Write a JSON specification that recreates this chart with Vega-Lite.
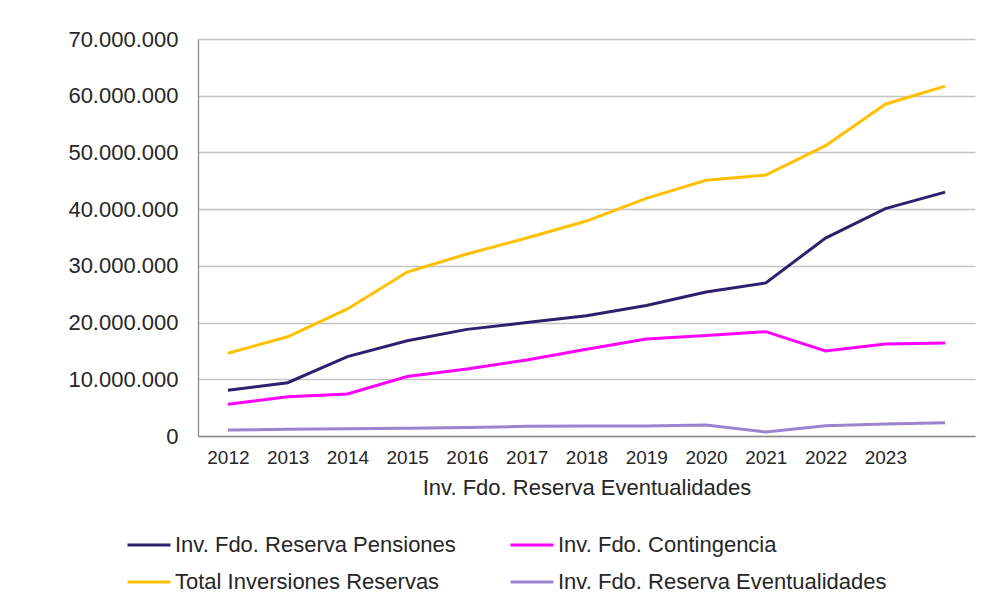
{
  "$schema": "https://vega.github.io/schema/vega-lite/v6.json",
  "width": 777,
  "height": 397,
  "autosize": {"type": "none"},
  "padding": {"left": 198, "top": 39, "right": 12, "bottom": 168},
  "background": "white",
  "data": {
    "values": [
      {"year": "2012", "serie": "Inv. Fdo. Reserva Pensiones", "value": 8060000},
      {"year": "2013", "serie": "Inv. Fdo. Reserva Pensiones", "value": 9400000},
      {"year": "2014", "serie": "Inv. Fdo. Reserva Pensiones", "value": 14000000},
      {"year": "2015", "serie": "Inv. Fdo. Reserva Pensiones", "value": 16800000},
      {"year": "2016", "serie": "Inv. Fdo. Reserva Pensiones", "value": 18800000},
      {"year": "2017", "serie": "Inv. Fdo. Reserva Pensiones", "value": 20000000},
      {"year": "2018", "serie": "Inv. Fdo. Reserva Pensiones", "value": 21200000},
      {"year": "2019", "serie": "Inv. Fdo. Reserva Pensiones", "value": 23000000},
      {"year": "2020", "serie": "Inv. Fdo. Reserva Pensiones", "value": 25400000},
      {"year": "2021", "serie": "Inv. Fdo. Reserva Pensiones", "value": 27000000},
      {"year": "2022", "serie": "Inv. Fdo. Reserva Pensiones", "value": 34900000},
      {"year": "2023", "serie": "Inv. Fdo. Reserva Pensiones", "value": 40100000},
      {"year": "2024", "serie": "Inv. Fdo. Reserva Pensiones", "value": 43000000},
      {"year": "2012", "serie": "Inv. Fdo. Contingencia", "value": 5600000},
      {"year": "2013", "serie": "Inv. Fdo. Contingencia", "value": 6900000},
      {"year": "2014", "serie": "Inv. Fdo. Contingencia", "value": 7400000},
      {"year": "2015", "serie": "Inv. Fdo. Contingencia", "value": 10500000},
      {"year": "2016", "serie": "Inv. Fdo. Contingencia", "value": 11800000},
      {"year": "2017", "serie": "Inv. Fdo. Contingencia", "value": 13400000},
      {"year": "2018", "serie": "Inv. Fdo. Contingencia", "value": 15300000},
      {"year": "2019", "serie": "Inv. Fdo. Contingencia", "value": 17100000},
      {"year": "2020", "serie": "Inv. Fdo. Contingencia", "value": 17700000},
      {"year": "2021", "serie": "Inv. Fdo. Contingencia", "value": 18400000},
      {"year": "2022", "serie": "Inv. Fdo. Contingencia", "value": 15000000},
      {"year": "2023", "serie": "Inv. Fdo. Contingencia", "value": 16200000},
      {"year": "2024", "serie": "Inv. Fdo. Contingencia", "value": 16400000},
      {"year": "2012", "serie": "Total Inversiones Reservas", "value": 14600000},
      {"year": "2013", "serie": "Total Inversiones Reservas", "value": 17500000},
      {"year": "2014", "serie": "Total Inversiones Reservas", "value": 22400000},
      {"year": "2015", "serie": "Total Inversiones Reservas", "value": 28900000},
      {"year": "2016", "serie": "Total Inversiones Reservas", "value": 32100000},
      {"year": "2017", "serie": "Total Inversiones Reservas", "value": 34900000},
      {"year": "2018", "serie": "Total Inversiones Reservas", "value": 37900000},
      {"year": "2019", "serie": "Total Inversiones Reservas", "value": 41900000},
      {"year": "2020", "serie": "Total Inversiones Reservas", "value": 45100000},
      {"year": "2021", "serie": "Total Inversiones Reservas", "value": 46000000},
      {"year": "2022", "serie": "Total Inversiones Reservas", "value": 51200000},
      {"year": "2023", "serie": "Total Inversiones Reservas", "value": 58500000},
      {"year": "2024", "serie": "Total Inversiones Reservas", "value": 61700000},
      {"year": "2012", "serie": "Inv. Fdo. Reserva Eventualidades", "value": 1050000},
      {"year": "2013", "serie": "Inv. Fdo. Reserva Eventualidades", "value": 1200000},
      {"year": "2014", "serie": "Inv. Fdo. Reserva Eventualidades", "value": 1300000},
      {"year": "2015", "serie": "Inv. Fdo. Reserva Eventualidades", "value": 1350000},
      {"year": "2016", "serie": "Inv. Fdo. Reserva Eventualidades", "value": 1500000},
      {"year": "2017", "serie": "Inv. Fdo. Reserva Eventualidades", "value": 1700000},
      {"year": "2018", "serie": "Inv. Fdo. Reserva Eventualidades", "value": 1750000},
      {"year": "2019", "serie": "Inv. Fdo. Reserva Eventualidades", "value": 1750000},
      {"year": "2020", "serie": "Inv. Fdo. Reserva Eventualidades", "value": 1950000},
      {"year": "2021", "serie": "Inv. Fdo. Reserva Eventualidades", "value": 700000},
      {"year": "2022", "serie": "Inv. Fdo. Reserva Eventualidades", "value": 1800000},
      {"year": "2023", "serie": "Inv. Fdo. Reserva Eventualidades", "value": 2100000},
      {"year": "2024", "serie": "Inv. Fdo. Reserva Eventualidades", "value": 2350000}
    ]
  },
  "mark": {"type": "line", "strokeWidth": 3, "strokeJoin": "miter"},
  "encoding": {
    "x": {
      "field": "year",
      "type": "ordinal",
      "scale": {"type": "point", "padding": 0.5},
      "axis": {
        "title": "Inv. Fdo. Reserva Eventualidades",
        "values": ["2012", "2013", "2014", "2015", "2016", "2017", "2018", "2019", "2020", "2021", "2022", "2023"],
        "labelAngle": 0,
        "labelFontSize": 19,
        "labelPadding": 12,
        "ticks": false,
        "titleFontSize": 22,
        "titleFontWeight": "normal",
        "titlePadding": 10,
        "grid": false
      }
    },
    "y": {
      "field": "value",
      "type": "quantitative",
      "scale": {"domain": [0, 70000000], "nice": false},
      "axis": {
        "title": null,
        "values": [0, 10000000, 20000000, 30000000, 40000000, 50000000, 60000000, 70000000],
        "format": ",d",
        "labelFontSize": 22,
        "labelPadding": 20,
        "ticks": false,
        "grid": true,
        "gridColor": "#c4c4c4",
        "gridWidth": 1.3
      }
    },
    "color": {
      "field": "serie",
      "type": "nominal",
      "scale": {
        "domain": ["Inv. Fdo. Reserva Pensiones", "Total Inversiones Reservas", "Inv. Fdo. Contingencia", "Inv. Fdo. Reserva Eventualidades"],
        "range": ["#2f1f6c", "#ffc000", "#ff00ff", "#9a84cf"]
      },
      "legend": {
        "title": null,
        "orient": "none",
        "legendX": -72,
        "legendY": 483,
        "columns": 2,
        "columnPadding": 48,
        "rowPadding": 3,
        "symbolType": "stroke",
        "symbolSize": 1849,
        "symbolStrokeWidth": 3,
        "labelFontSize": 22,
        "labelOffset": 3,
        "labelColor": "#262626",
        "padding": 0
      }
    }
  },
  "config": {
    "locale": {"number": {"decimal": ",", "thousands": ".", "grouping": [3], "currency": ["", " €"]}},
    "font": "Liberation Sans",
    "view": {"stroke": null},
    "axis": {
      "labelFont": "Liberation Sans",
      "titleFont": "Liberation Sans",
      "labelColor": "#262626",
      "titleColor": "#262626",
      "domainColor": "#8c8c8c",
      "domainWidth": 1.3
    },
    "legend": {"labelFont": "Liberation Sans", "labelLimit": 500}
  }
}
